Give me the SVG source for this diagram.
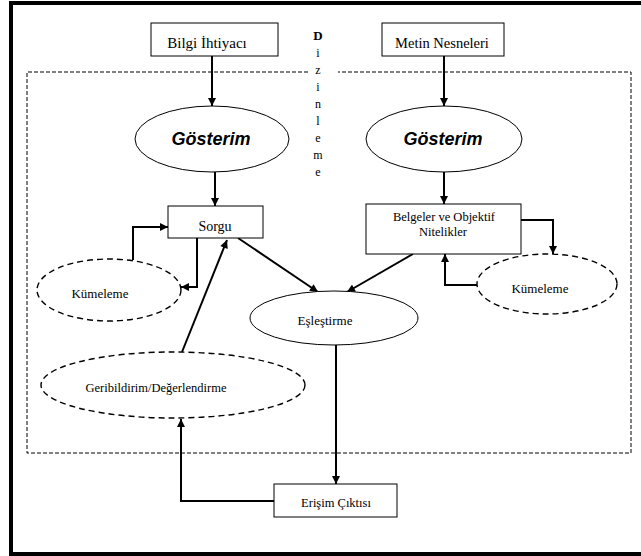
<svg xmlns="http://www.w3.org/2000/svg" width="641" height="556" viewBox="0 0 641 556">
<style>
.box{fill:#fff;stroke:#000;stroke-width:1}
.ell{fill:#fff;stroke:#000;stroke-width:1}
.dell{fill:#fff;stroke:#000;stroke-width:1.4;stroke-dasharray:6 4}
.t{font-family:"Liberation Serif","Times New Roman",serif;fill:#000;text-anchor:middle}
.g{font-family:"Liberation Sans",Arial,sans-serif;font-weight:bold;font-style:italic;font-size:18px;fill:#000;text-anchor:middle}
.c{fill:none;stroke:#000;stroke-width:2}
.dash{fill:none;stroke:#000;stroke-width:1;stroke-dasharray:4 2}
</style>
<defs>
<marker id="ah" viewBox="0 0 10 10" refX="10" refY="5" markerWidth="9" markerHeight="8" markerUnits="userSpaceOnUse" orient="auto">
<path d="M0,0 L10,5 L0,10 z" fill="#000"/>
</marker>
</defs>
<rect x="0" y="0" width="641" height="556" fill="#fff"/>
<rect x="11" y="3" width="640" height="551" fill="none" stroke="#000" stroke-width="4"/>
<g id="indexing-region">
<path class="dash" d="M308,72 L27,72 L27,453 L631,453 L631,72 L338,72"/>
<g class="t" font-size="12">
<text x="318" y="40" font-weight="bold" font-size="13">D</text>
<text x="318" y="57">i</text>
<text x="318" y="74">z</text>
<text x="318" y="91">i</text>
<text x="318" y="108">n</text>
<text x="318" y="125">l</text>
<text x="318" y="142">e</text>
<text x="318" y="159">m</text>
<text x="318" y="176">e</text>
</g>
</g>
<g id="connectors">
<path class="c" marker-end="url(#ah)" d="M212,56 L212,106"/>
<path class="c" marker-end="url(#ah)" d="M444,56 L444,106"/>
<path class="c" marker-end="url(#ah)" d="M215,172 L215,206"/>
<path class="c" marker-end="url(#ah)" d="M444,172 L444,204"/>
<path class="c" marker-end="url(#ah)" d="M238,238 L318,292"/>
<path class="c" marker-end="url(#ah)" d="M413,254 L347,292"/>
<path class="c" marker-end="url(#ah)" d="M133,260 L133,227 L168,227"/>
<path class="c" marker-end="url(#ah)" d="M197,238 L197,287 L181,287"/>
<path class="c" marker-end="url(#ah)" d="M521,220 L553,220 L553,254"/>
<path class="c" marker-end="url(#ah)" d="M477,285 L445,285 L445,254"/>
<path class="c" marker-end="url(#ah)" d="M182,352 L227,240"/>
<path class="c" marker-end="url(#ah)" d="M336,345 L336,484"/>
<path class="c" marker-end="url(#ah)" d="M274,501 L181,501 L181,419"/>
</g>
<g id="bilgi-ihtiyaci">
<rect class="box" x="151" y="23" width="127" height="33"/>
<text class="t" x="207" y="48" font-size="15">Bilgi  İhtiyacı</text>
</g>
<g id="metin-nesneleri">
<rect class="box" x="382" y="23" width="122" height="33"/>
<text class="t" x="442" y="48" font-size="14.5">Metin Nesneleri</text>
</g>
<g id="gosterim-left">
<ellipse class="ell" cx="212" cy="139" rx="77" ry="33"/>
<text class="g" x="211" y="145">Gösterim</text>
</g>
<g id="gosterim-right">
<ellipse class="ell" cx="444" cy="139" rx="78" ry="33"/>
<text class="g" x="443" y="145">Gösterim</text>
</g>
<g id="sorgu">
<rect class="box" x="168" y="206" width="95" height="32"/>
<text class="t" x="215" y="231" font-size="14">Sorgu</text>
</g>
<g id="belgeler">
<rect class="box" x="366" y="204" width="155" height="50"/>
<text class="t" x="444" y="221" font-size="12.5">Belgeler ve Objektif</text>
<text class="t" x="443" y="236" font-size="12.5">Nitelikler</text>
</g>
<g id="kumeleme-left">
<ellipse class="dell" cx="109" cy="290" rx="72" ry="31"/>
<text class="t" x="100" y="298" font-size="13">Kümeleme</text>
</g>
<g id="kumeleme-right">
<ellipse class="dell" cx="547" cy="284" rx="70" ry="30"/>
<text class="t" x="540" y="293" font-size="13">Kümeleme</text>
</g>
<g id="eslestirme">
<ellipse class="ell" cx="334" cy="318" rx="84" ry="27"/>
<text class="t" x="325" y="325" font-size="13">Eşleştirme</text>
</g>
<g id="geribildirim">
<ellipse class="dell" cx="173" cy="385" rx="132" ry="33"/>
<text class="t" x="156" y="392" font-size="12.5">Geribildirim/Değerlendirme</text>
</g>
<g id="erisim-ciktisi">
<rect class="box" x="274" y="484" width="123" height="33"/>
<text class="t" x="336" y="507" font-size="12.5">Erişim Çıktısı</text>
</g>
</svg>
